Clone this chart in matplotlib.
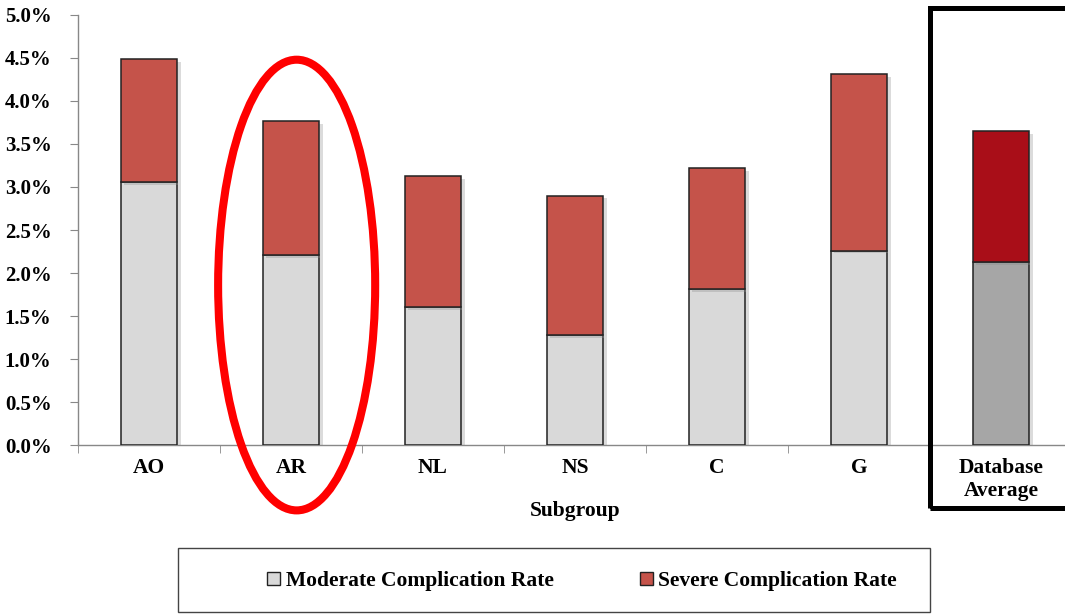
import matplotlib.pyplot as plt
import matplotlib.patheffects as pe
from matplotlib.patches import Ellipse, Rectangle, Patch
from matplotlib.ticker import PercentFormatter, MultipleLocator
import numpy as np

# complication rates by subgroup, in percent
subgroups = ['AO', 'AR', 'NL', 'NS', 'C', 'G', 'Database\nAverage']
moderate = [3.06, 2.21, 1.60, 1.28, 1.81, 2.26, 2.13]
severe = [1.43, 1.56, 1.53, 1.62, 1.41, 2.05, 1.52]

mod_colors = ['#D9D9D9'] * 6 + ['#A6A6A6']
sev_colors = ['#C5534A'] * 6 + ['#A90E18']

plt.rcParams['font.family'] = 'Liberation Serif'
plt.rcParams['font.weight'] = 'bold'

fig = plt.figure(figsize=(10.65, 6.14), dpi=100)
ax = fig.add_axes([0.0732, 0.2752, 0.9334, 0.7004])

x = np.arange(len(subgroups))
shadow = [pe.SimplePatchShadow(offset=(2.5, -2), shadow_rgbFace='#888888', alpha=0.3), pe.Normal()]
b1 = ax.bar(x, moderate, 0.4, color=mod_colors, edgecolor='#222222', linewidth=1.1, zorder=3)
b2 = ax.bar(x, severe, 0.4, bottom=moderate, color=sev_colors, edgecolor='#222222',
            linewidth=1.1, zorder=3)
for p in list(b1) + list(b2):
    p.set_path_effects(shadow)

ax.set_xlim(-0.5, len(subgroups) - 0.5)
ax.set_ylim(0, 5.0)
ax.yaxis.set_major_locator(MultipleLocator(0.5))
ax.yaxis.set_major_formatter(PercentFormatter(xmax=100, decimals=1))
ax.set_xticks(x)
ax.set_xticklabels(subgroups, fontsize=15.5, fontweight='bold', linespacing=1.25)
ax.set_xticks(np.arange(len(subgroups) + 1) - 0.5, minor=True)
ax.tick_params(axis='x', which='major', length=0, pad=9)
ax.tick_params(axis='x', which='minor', length=6, color='#888888', direction='out')
ax.tick_params(axis='y', labelsize=15, length=6, color='#888888', pad=13)
for lbl in ax.get_yticklabels():
    lbl.set_fontweight('bold')
ax.set_xlabel('Subgroup', fontsize=15.5, fontweight='bold', labelpad=0)

for s in ['top', 'right']:
    ax.spines[s].set_visible(False)
for s in ['left', 'bottom']:
    ax.spines[s].set_color('#888888')
    ax.spines[s].set_linewidth(1.0)

# red ring around AR
ax.add_patch(Ellipse((1.04, 1.86), 1.106, 5.24, fill=False, edgecolor='#FF0000',
                     linewidth=5.8, clip_on=False, zorder=5))

# black frame around the database average
fig.patches.append(Rectangle((930 / 1065, 1 - 508 / 614), 0.2, (508 - 7.5) / 614,
                             transform=fig.transFigure, fill=False, edgecolor='black',
                             linewidth=3.6, zorder=6))

# legend box
fig.patches.append(Rectangle((178 / 1065, 1 - 612 / 614), (930 - 178) / 1065, 64 / 614,
                             transform=fig.transFigure, fill=False, edgecolor='#444444',
                             linewidth=1.0))
handles = [Patch(facecolor='#D9D9D9', edgecolor='#222222', linewidth=1.0),
           Patch(facecolor='#C5534A', edgecolor='#222222', linewidth=1.0)]
fig.legend(handles, ['Moderate Complication Rate', 'Severe Complication Rate'],
           loc='center', bbox_to_anchor=(582 / 1065, 1 - 581 / 614), ncol=2, frameon=False,
           prop={'family': 'Liberation Serif', 'weight': 'bold', 'size': 15.5},
           handlelength=0.6, handleheight=0.6, handletextpad=0.25, columnspacing=4.0)

fig.savefig('out.png', dpi=100)
